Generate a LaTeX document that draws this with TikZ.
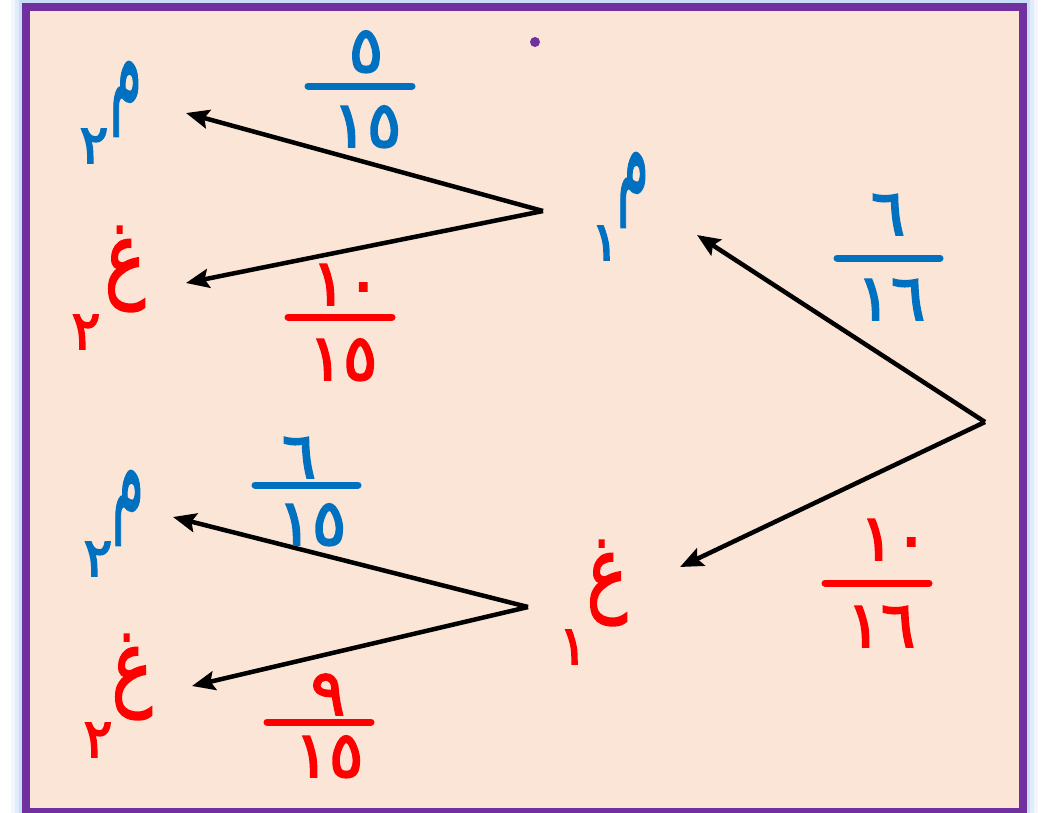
\documentclass[tikz,border=0pt]{standalone}
\usepackage{fontspec}
\usepackage{graphicx}
\newfontfamily\ar[Script=Arabic,FakeBold=1.6]{DejaVu Sans}
\newfontfamily\ard[Script=Arabic,FakeBold=3]{DejaVu Sans}
\usetikzlibrary{arrows.meta}
\definecolor{peach}{HTML}{FBE5D6}
\definecolor{frame}{HTML}{7030A0}
\definecolor{bl}{HTML}{0070C0}
\definecolor{rd}{HTML}{FF0000}
\definecolor{glow}{HTML}{9DC3F0}
\newcommand{\meem}{\scalebox{0.62}[1.5]{م}}
\newcommand{\ghain}{\scalebox{0.72}[1]{غ}}
\begin{document}
\begin{tikzpicture}[x=1pt,y=-1pt,
  arr/.style={line width=4.5pt, -{Stealth[length=23pt,width=19pt,inset=4pt]}},
  lett/.style={font=\ar\fontsize{95}{100}\selectfont, inner sep=0pt},
  mlett/.style={font=\ar\fontsize{82}{90}\selectfont, inner sep=0pt},
  sub/.style={font=\ard\fontsize{54}{60}\selectfont, inner sep=0pt},
  dig/.style={font=\ard\fontsize{64}{70}\selectfont, inner sep=0pt, anchor=base},
  bar/.style={line width=7pt, line cap=round}]
\useasboundingbox (0,0) rectangle (1046,812);
\fill[white] (0,0) rectangle (1046,812);
\foreach \w/\o in {30/0.12, 22/0.2, 14/0.35} \draw[glow, line width=\w pt, opacity=\o] (26,7) rectangle (1023,812);
\draw[frame, line width=8pt, fill=peach] (26,7) rectangle (1023,812);
\fill[frame] (535,42) circle (5);

% letters
\node[mlett, bl] (m2a) at (126,99) {\meem};
\node[sub, bl] (m2as) at (94,146) {٢};
\node[lett, rd] (g2a) at (125,269) {\ghain};
\node[sub, rd] (g2as) at (86,332) {٢};
\node[mlett, bl] (m1) at (633,190) {\meem};
\node[sub, bl] (m1s) at (605,243) {١};
\node[lett, rd] (g1) at (607,583) {\ghain};
\node[sub, rd] (g1s) at (573,647) {١};
\node[mlett, bl] (m2b) at (128,508) {\meem};
\node[sub, bl] (m2bs) at (98,559) {٢};
\node[lett, rd] (g2b) at (132,677) {\ghain};
\node[sub, rd] (g2bs) at (98,740) {٢};

% branch points and arrow tips
\coordinate (r) at (985,422);
\coordinate (tm1) at (697,235);
\coordinate (tg1) at (680,567);
\coordinate (b1) at (543,211);
\coordinate (tm2a) at (186,113);
\coordinate (tg2a) at (186,283);
\coordinate (b2) at (528,607);
\coordinate (tm2b) at (173,517);
\coordinate (tg2b) at (192,686);
\draw[arr] (r) -- (tm1);
\draw[arr] (r) -- (tg1);
\draw[arr] (b1) -- (tm2a);
\draw[arr] (b1) -- (tg2a);
\draw[arr] (b2) -- (tm2b);
\draw[arr] (b2) -- (tg2b);

% fractions
\node[dig, bl] (f1n) at (366,72) {٥};
\coordinate (f1l) at (308,86); \coordinate (f1r) at (412,86);
\draw[bar, bl] (f1l) -- (f1r);
\node[dig, bl] (f1d) at (367,147) {١٥};

\node[dig, rd] (f2n) at (346,305) {١٠};
\coordinate (f2l) at (288,317); \coordinate (f2r) at (392,317);
\draw[bar, rd] (f2l) -- (f2r);
\node[dig, rd] (f2d) at (343,380) {١٥};

\node[dig, bl] (f3n) at (299,478) {٦};
\coordinate (f3l) at (255,485); \coordinate (f3r) at (358,485);
\draw[bar, bl] (f3l) -- (f3r);
\node[dig, bl] (f3d) at (312,545) {١٥};

\node[dig, rd] (f4n) at (328,715) {٩};
\coordinate (f4l) at (267,722); \coordinate (f4r) at (371,722);
\draw[bar, rd] (f4l) -- (f4r);
\node[dig, rd] (f4d) at (329,777) {١٥};

\node[dig, bl] (f5n) at (888,235) {٦};
\coordinate (f5l) at (837,258); \coordinate (f5r) at (940,258);
\draw[bar, bl] (f5l) -- (f5r);
\node[dig, bl] (f5d) at (891,320) {١٦};

\node[dig, rd] (f6n) at (894,560) {١٠};
\coordinate (f6l) at (825,583); \coordinate (f6r) at (929,583);
\draw[bar, rd] (f6l) -- (f6r);
\node[dig, rd] (f6d) at (881,647) {١٦};
\end{tikzpicture}
\end{document}
